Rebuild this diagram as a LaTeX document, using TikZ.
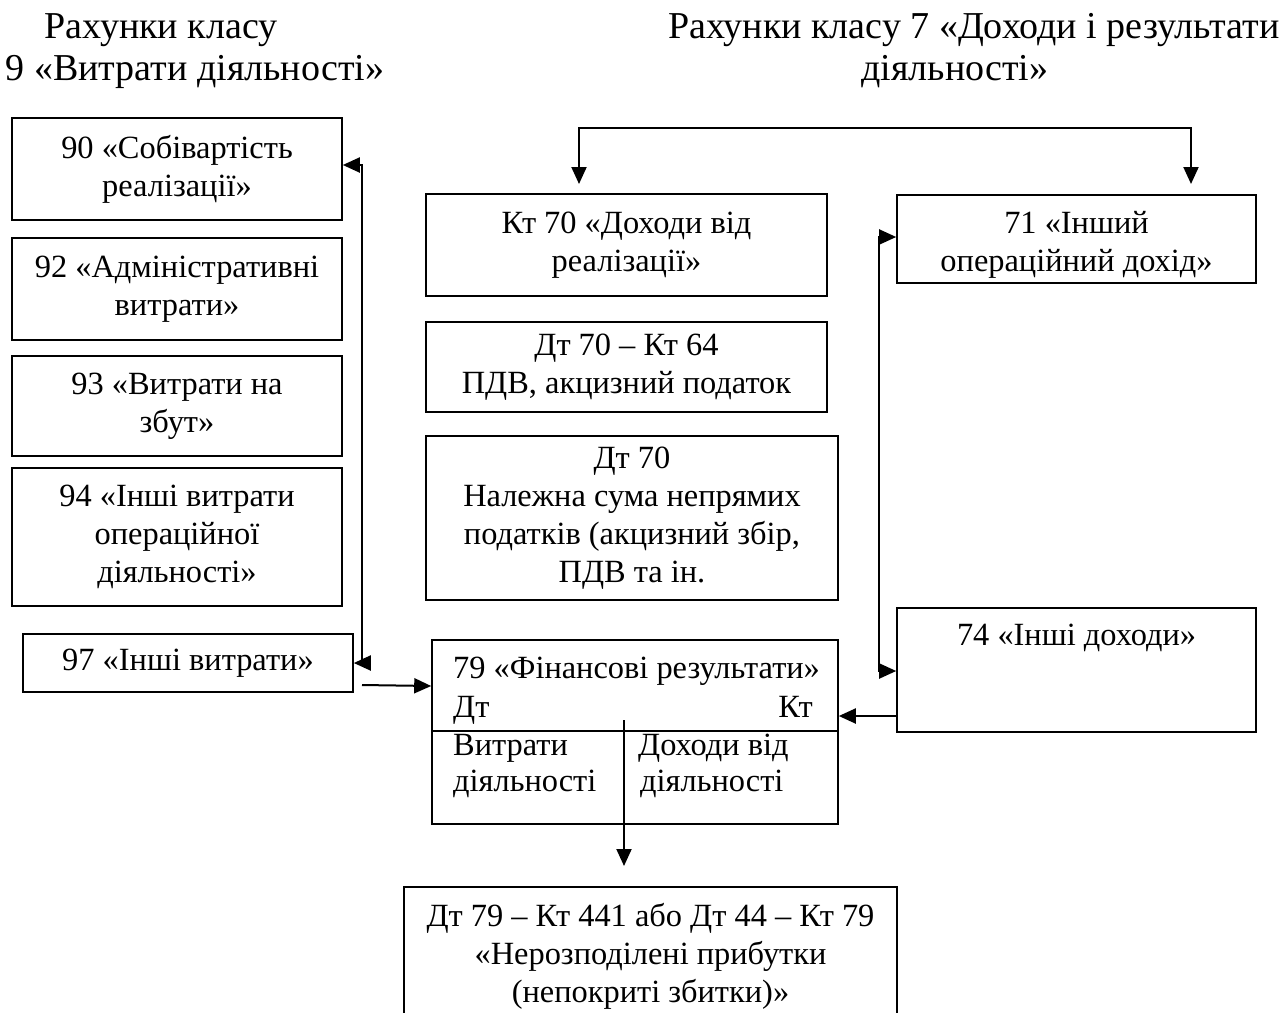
\documentclass[tikz,border=0pt]{standalone}
\usepackage{fontspec}
\setmainfont{Liberation Serif}
\usetikzlibrary{arrows.meta}
\begin{document}
\begin{tikzpicture}[x=1pt,y=-1pt,
  every node/.style={font=\fontsize{32.4}{38}\selectfont, inner sep=0pt},
  ttl/.style={font=\fontsize{38}{42}\selectfont},
  box/.style={draw, line width=1.6pt, align=center},
  lbl/.style={anchor=base west},
  arr/.style={line width=2pt, -{Triangle[length=17pt,width=15pt]}},
  both/.style={line width=2pt, {Triangle[length=17pt,width=15pt]}-{Triangle[length=17pt,width=15pt]}}]
\useasboundingbox (0,0) rectangle (1284,1012);
% titles
\node[ttl] (t1) at (161,30) {Рахунки класу};
\node[ttl] (t2) at (195,72) {9 «Витрати діяльності»};
\node[ttl, anchor=west] (t3) at (668,30) {Рахунки класу 7 «Доходи і результати};
\node[ttl] (t4) at (955,72) {діяльності»};
% left column
\node[box, minimum width=330pt, minimum height=102pt] (b90) at (177,169) {90 «Собівартість\\реалізації»};
\node[box, minimum width=330pt, minimum height=102pt] (b92) at (177,289) {92 «Адміністративні\\витрати»};
\node[box, minimum width=330pt, minimum height=100pt] (b93) at (177,406) {93 «Витрати на\\збут»};
\node[box, minimum width=330pt, minimum height=138pt] (b94) at (177,537) {94 «Інші витрати\\операційної\\діяльності»};
\node[box, minimum width=330pt, minimum height=58pt] (b97) at (188,663) {97 «Інші витрати»};
% middle column
\node[box, minimum width=401pt, minimum height=102pt] (k70) at (626.5,245) {Кт 70 «Доходи від\\реалізації»};
\node[box, minimum width=401pt, minimum height=90pt] (d64) at (626.5,367) {Дт 70 – Кт 64\\ПДВ, акцизний податок};
\node[box, minimum width=412pt, minimum height=164pt] (d70) at (632,518) {Дт 70\\Належна сума непрямих\\податків (акцизний збір,\\ПДВ та ін.};
% 79 box
\node[draw, line width=1.6pt, minimum width=406pt, minimum height=184pt] (b79) at (635,732) {};
\draw[line width=1.6pt] (b79.west |- 0,731) -- (b79.east |- 0,731);
\node[lbl] (f1) at (453,678) {79 «Фінансові результати»};
\node[lbl] (f2) at (453,717) {Дт};
\node[anchor=base east] (f3) at (813,717) {Кт};
\node[lbl] (f4) at (453,755) {Витрати};
\node[lbl] (f5) at (453,791) {діяльності};
\node[lbl] (f6) at (638,755) {Доходи від};
\node[lbl] (f7) at (640,791) {діяльності};
% right column
\node[box, minimum width=359pt, minimum height=88pt, anchor=north] (b71) at (1076.5,194) {};
\node[align=center] (t71) at (1076.5,245) {71 «Інший\\операційний дохід»};
\node[box, minimum width=359pt, minimum height=124pt, anchor=north] (b74) at (1076.5,607) {};
\node[anchor=north] (t74) at (1076.5,624) {74 «Інші доходи»};
% bottom box (cut at the image edge)
\draw[line width=1.6pt] (404,1030) -- (404,887) -- (897,887) -- (897,1030);
\node[align=center] (bot) at (650.5,956) {Дт 79 – Кт 441 або Дт 44 – Кт 79\\«Нерозподілені прибутки\\(непокриті збитки)»};
% connectors
\coordinate (L) at (362,0);
\coordinate (R) at (879,0);
\draw[both] (b90.east |- 0,165) -- (L |- 0,165) -- (L |- b97.east) -- (b97.east);
\draw[arr] (L |- 0,685) -- (b79.west |- 0,686);
\coordinate (ta) at (579,184);
\coordinate (tb) at (1191,184);
\draw[both] (ta) -- (579,128) -- (1191,128) -- (tb);
\draw[both] (b71.west |- 0,237) -- (R |- 0,237) -- (R |- 0,671) -- (b74.west |- 0,671);
\draw[arr] (b74.west |- 0,716) -- (b79.east |- 0,716);
\coordinate (vs) at (624,720);
\coordinate (ve) at (624,866);
\draw[arr] (vs) -- (ve);
\end{tikzpicture}
\end{document}
